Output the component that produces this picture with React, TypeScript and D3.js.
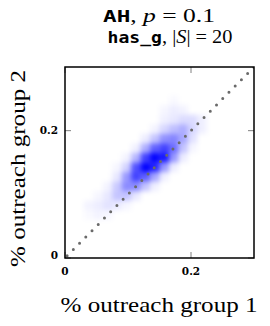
import * as d3 from 'd3';

// heat map bins: width 0.015 in both directions
const binSize = 0.015;
const xBins = [2, 3, 4, 5, 6, 7, 8, 9, 10, 11, 12, 13, 14, 15];
const yBins = [16, 15, 14, 13, 12, 11, 10, 9, 8, 7, 6, 5, 4];
// rows go top (y high) to bottom, columns follow xBins
const density = [
    [0, 0, 0, 0, 0, 0, 0, 0, 0, 0.02, 0, 0, 0, 0],
    [0, 0, 0, 0, 0, 0, 0, 0, 0.03, 0.06, 0.04, 0, 0, 0],
    [0, 0, 0, 0, 0, 0, 0, 0, 0.05, 0.08, 0.12, 0.12, 0.05, 0],
    [0, 0, 0, 0, 0, 0, 0, 0.04, 0.14, 0.22, 0.28, 0.14, 0.05, 0],
    [0, 0, 0, 0, 0, 0, 0.06, 0.2, 0.38, 0.42, 0.3, 0.1, 0, 0],
    [0, 0, 0, 0, 0, 0.05, 0.28, 0.55, 0.65, 0.5, 0.2, 0.03, 0, 0],
    [0, 0, 0, 0, 0.04, 0.25, 0.65, 1.0, 0.8, 0.35, 0.06, 0, 0, 0],
    [0, 0, 0, 0.03, 0.15, 0.6, 0.9, 0.75, 0.35, 0.06, 0, 0, 0, 0],
    [0, 0, 0, 0.08, 0.35, 0.65, 0.55, 0.3, 0.05, 0, 0, 0, 0, 0],
    [0, 0, 0.04, 0.18, 0.4, 0.4, 0.2, 0.05, 0, 0, 0, 0, 0, 0],
    [0, 0.03, 0.08, 0.2, 0.2, 0.08, 0, 0, 0, 0, 0, 0, 0, 0],
    [0.04, 0.06, 0.1, 0.07, 0.03, 0, 0, 0, 0, 0, 0, 0, 0, 0],
    [0.02, 0.04, 0.03, 0, 0, 0, 0, 0, 0, 0, 0, 0, 0, 0],
];

const tickValues = [0, 0.2];
const tickLabels = ['0', '0.2'];
const diagonal = [0, 0.3];

const W = 270;
const H = 326;
const plot = { left: 65, right: 254, top: 67, bottom: 258 };

const App = () => {
    const x = d3.scaleLinear().domain([0, 0.3]).range([plot.left, plot.right]);
    const y = d3.scaleLinear().domain([0, 0.3]).range([plot.bottom, plot.top]);
    const alpha = d3.scaleLinear().domain([0, 1]).range([0, 1.15]).clamp(true);

    const cells = yBins.flatMap((j, r) =>
        xBins.map((i, c) => ({ i, j, v: density[r][c] })).filter(d => d.v > 0)
    );

    const serif = '"Liberation Serif", "DejaVu Serif", serif';
    const tickFont = '"DejaVu Serif", serif';
    const mono = '"DejaVu Sans Mono", monospace';

    return (
        <svg width={W} height={H} style={{ position: 'absolute', left: 0, top: 0 }}>
            <defs>
                <clipPath id='plotClip'>
                    <rect x={plot.left} y={plot.top} width={plot.right - plot.left} height={plot.bottom - plot.top} />
                </clipPath>
                <filter id='soft' filterUnits='userSpaceOnUse' x={0} y={0} width={W} height={H}>
                    <feGaussianBlur stdDeviation={2.5} />
                </filter>
            </defs>

            <rect x={plot.left} y={plot.top} width={plot.right - plot.left} height={plot.bottom - plot.top} fill='white' />

            <g clipPath='url(#plotClip)'>
                <g filter='url(#soft)'>
                    {cells.map(d => (
                        <rect
                            key={`${d.i}-${d.j}`}
                            x={x(d.i * binSize)}
                            y={y((d.j + 1) * binSize)}
                            width={x((d.i + 1) * binSize) - x(d.i * binSize)}
                            height={y(d.j * binSize) - y((d.j + 1) * binSize)}
                            fill='#0000ff'
                            fillOpacity={alpha(d.v)}
                        />
                    ))}
                </g>
                <line
                    x1={x(diagonal[0])}
                    y1={y(diagonal[0])}
                    x2={x(diagonal[1])}
                    y2={y(diagonal[1])}
                    stroke='#6a6a6a'
                    strokeWidth={3}
                    strokeLinecap='round'
                    strokeDasharray='0 8.85'
                    strokeDashoffset={-3}
                />
            </g>

            {/* inward ticks on all four sides */}
            {tickValues.map(t => (
                <g key={t} stroke='#808080' strokeWidth={1}>
                    <line x1={x(t)} x2={x(t)} y1={plot.bottom} y2={plot.bottom - 6} />
                    <line x1={x(t)} x2={x(t)} y1={plot.top} y2={plot.top + 6} />
                    <line y1={y(t)} y2={y(t)} x1={plot.left} x2={plot.left + 6} />
                    <line y1={y(t)} y2={y(t)} x1={plot.right} x2={plot.right - 6} />
                </g>
            ))}

            <rect
                x={plot.left}
                y={plot.top}
                width={plot.right - plot.left}
                height={plot.bottom - plot.top}
                fill='none'
                stroke='black'
                strokeWidth={1.5}
            />

            {tickValues.map((t, k) => (
                <text key={`x${t}`} x={x(t)} y={plot.bottom + 17} textAnchor='middle' fontFamily={tickFont} fontWeight='bold' fontSize={10.5}>
                    {tickLabels[k]}
                </text>
            ))}
            {tickValues.map((t, k) => (
                <text key={`y${t}`} x={plot.left - 7} y={t === 0 ? y(t) - 3 : y(t)} dy='0.35em' textAnchor='end' fontFamily={tickFont} fontWeight='bold' fontSize={10.5}>
                    {tickLabels[k]}
                </text>
            ))}

            <text x={W / 2 + 24} y={312} textAnchor='middle' fontFamily={serif} fontSize={21} textLength={197} lengthAdjust='spacingAndGlyphs'>
                % outreach group 1
            </text>
            <text
                transform={`translate(25, ${(plot.top + plot.bottom) / 2 + 6}) rotate(-90)`}
                textAnchor='middle'
                fontFamily={serif}
                fontSize={21}
                textLength={197}
                lengthAdjust='spacingAndGlyphs'
            >
                % outreach group 2
            </text>

            <text x={159} y={22} textAnchor='middle' fontFamily={serif} fontSize={18} textLength={112} lengthAdjust='spacingAndGlyphs'>
                <tspan fontFamily={mono} fontWeight='bold' fontSize={16}>AH</tspan>
                <tspan>, </tspan>
                <tspan fontStyle='italic'>p</tspan>
                <tspan> = 0.1</tspan>
            </text>
            <text x={170} y={43} textAnchor='middle' fontFamily={serif} fontSize={18} textLength={125} lengthAdjust='spacingAndGlyphs'>
                <tspan fontFamily={mono} fontWeight='bold' fontSize={16}>has_g</tspan>
                <tspan>, |</tspan>
                <tspan fontStyle='italic'>S</tspan>
                <tspan>| = 20</tspan>
            </text>
        </svg>
    );
};

export default App;
